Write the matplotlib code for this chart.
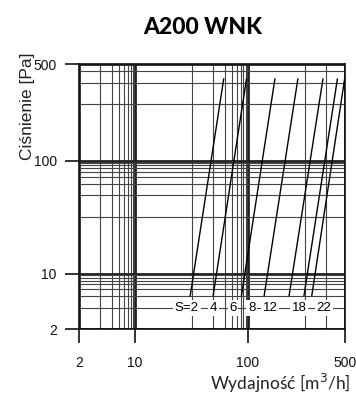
import numpy as np
import matplotlib.pyplot as plt
from matplotlib.ticker import FixedLocator, FixedFormatter, NullFormatter

plt.rcParams['font.family'] = ['Liberation Sans', 'DejaVu Sans']

# axis is split in decades, inside each decade the spacing is (1 - m^-0.8)
P = 0.8
G1 = 1 - 10**-P

def fwd(v):
    v = np.clip(np.asarray(v, dtype=float), 1e-9, None)
    k = np.floor(np.log10(v))
    m = v / 10**k
    return k + (1 - m**-P) / G1

def inv(u):
    u = np.asarray(u, dtype=float)
    k = np.floor(u)
    g = u - k
    return (1 - g * G1)**(-1 / P) * 10**k

# data
settings = ['S=2', '4', '6', '8', '12', '18', '22']
flow_low = [19.5, 30, 73, 118, 159, 198, 226]
flow_high = [39, 94, 133, 180, 281, 400, 500]
p_low = 4.1
p_high = 327
label_flow = [18.5, 30, 52, 104, 126, 184, 285]
label_p = 3

major = [2, 10, 100, 500]
major_lab = ['2', '10', '100', '500']
x_minor = [3, 4, 5, 6, 7, 8, 9, 20, 30, 40, 50, 60, 70, 80, 90, 200, 300]
y_minor = [3, 4, 5, 6, 7, 8, 9, 20, 30, 40, 50, 60, 70, 80, 90, 200, 300, 400]

fig = plt.figure(figsize=(3.56, 3.98), dpi=100)
ax = fig.add_axes([0.222, 0.173, 0.746, 0.666])
ax.set_xscale('function', functions=(fwd, inv))
ax.set_yscale('function', functions=(fwd, inv))
ax.set_xlim(2, 500)
ax.set_ylim(2, 500)

for ax_ in (ax.xaxis, ax.yaxis):
    ax_.set_major_locator(FixedLocator(major))
    ax_.set_major_formatter(FixedFormatter(major_lab))
ax.xaxis.set_minor_locator(FixedLocator(x_minor))
ax.yaxis.set_minor_locator(FixedLocator(y_minor))
ax.xaxis.set_minor_formatter(NullFormatter())
ax.yaxis.set_minor_formatter(NullFormatter())

ax.grid(which='minor', color='#444444', lw=0.8)
ax.grid(which='major', color='#222222', lw=2.0)
ax.tick_params(which='minor', length=0)
ax.tick_params(which='major', direction='out', length=10, width=1.2,
               labelsize=10, colors='#111111')
ax.tick_params(axis='x', which='major', pad=9)
ax.tick_params(axis='y', which='major', pad=6)
for s in ax.spines.values():
    s.set_color('#111111')
    s.set_linewidth(1.2)

for i in range(len(settings)):
    ax.plot([flow_low[i], flow_high[i]], [p_low, p_high], color='black', lw=1, zorder=3)
    ax.text(label_flow[i], label_p, settings[i], ha='center', va='center',
            fontsize=9.5, zorder=4,
            bbox=dict(facecolor='white', edgecolor='none', pad=1.2))

fig.text(0.57, 0.932, 'A200 WNK', ha='center', va='center',
         fontsize=16.5, fontweight='black', family='Lato')
fig.text(0.076, 0.733, 'Ciśnienie [Pa]', rotation=90, ha='center', va='center',
         fontsize=12.5, color='#222222')
fig.text(0.985, 0.037, 'Wydajność [m$^3$/h]', ha='right', va='center',
         fontsize=12.5, family='Lato', color='#222222')

fig.savefig('out.png', dpi=100)
